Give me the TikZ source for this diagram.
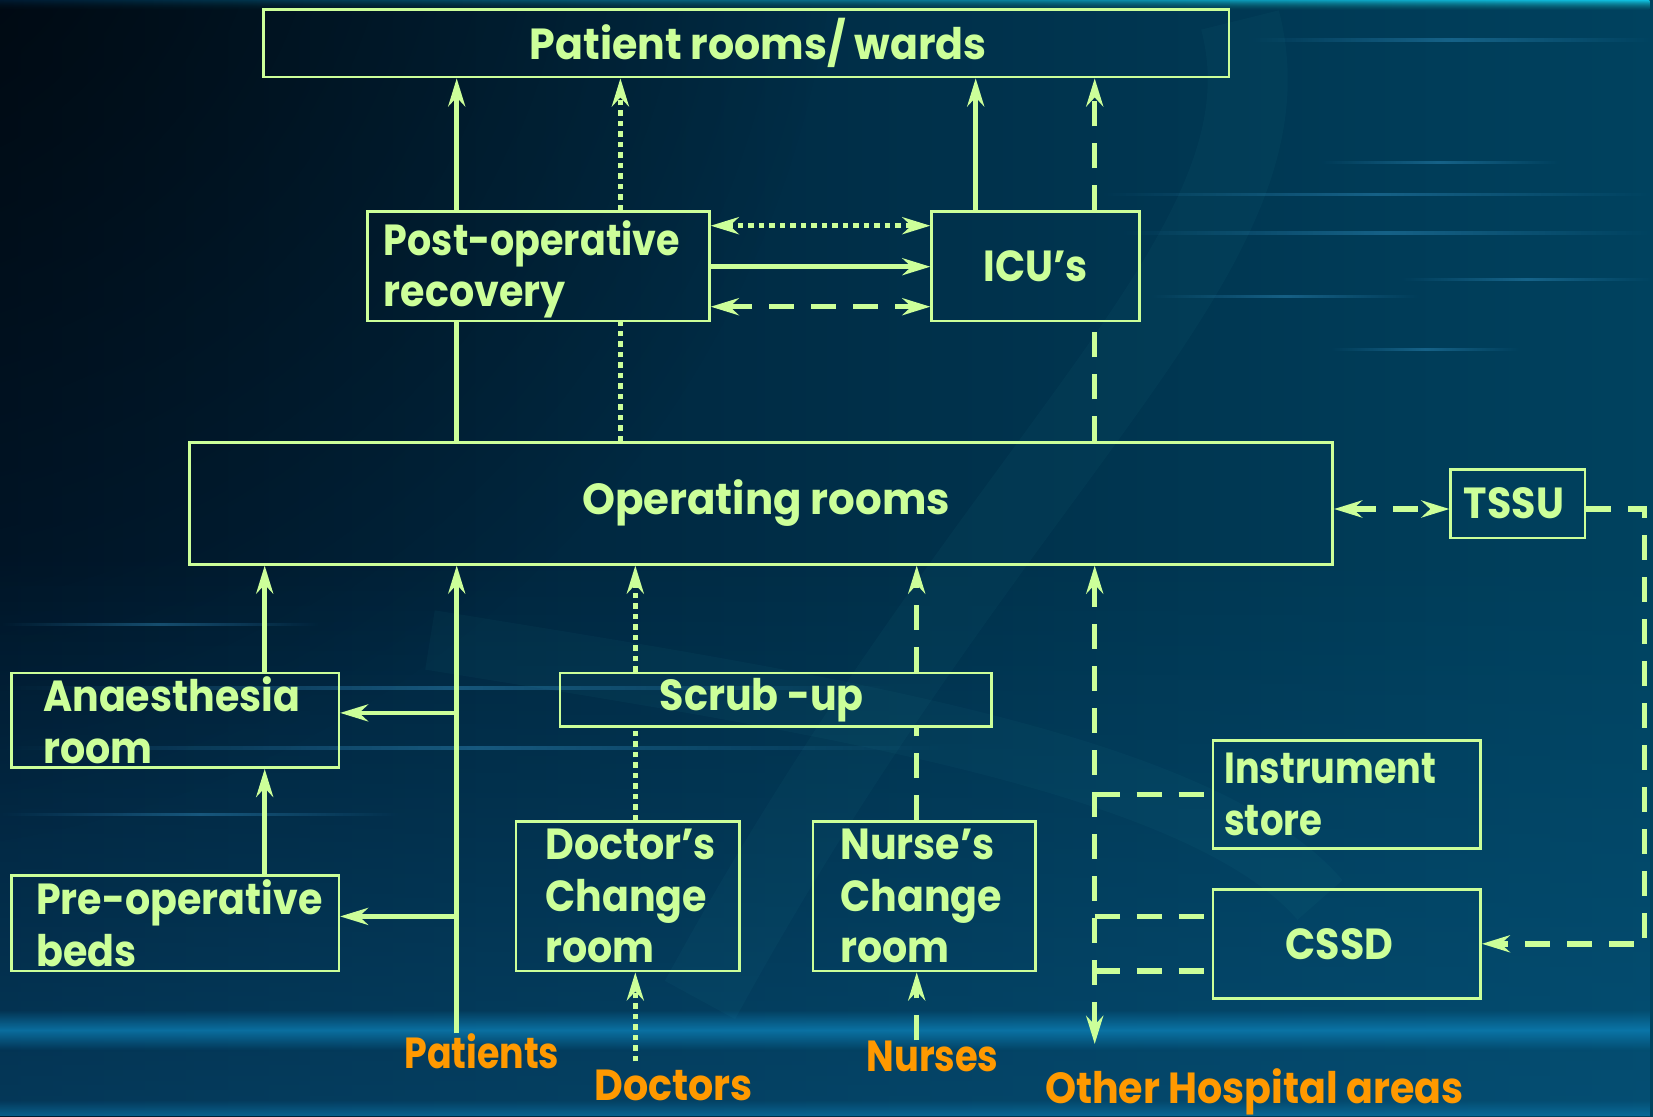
\documentclass[tikz,border=0pt]{standalone}
\usepackage{fontspec}
\usepackage{graphicx}
\setmainfont{Poppins}[FakeStretch=0.91]
\usetikzlibrary{arrows.meta,fadings,calc}
\newcommand\fitw[2]{\resizebox{#1}{\height}{#2}}
\definecolor{lg}{RGB}{204,255,153}
\definecolor{org}{RGB}{255,153,0}
\definecolor{bgL}{HTML}{001A30}
\definecolor{bgR}{HTML}{00425F}
\definecolor{lift}{HTML}{0A5E8C}
\definecolor{cyanband}{HTML}{10C0E0}
\definecolor{band}{HTML}{0E86BE}
\definecolor{streakc}{HTML}{3FA8E0}
\definecolor{swoosh}{HTML}{2FA8B0}
\tikzfading[name=fadeRad, inner color=transparent!0, outer color=transparent!100]
\tikzfading[name=fadeUp, top color=transparent!100, bottom color=transparent!0]
\tikzfading[name=fadeDown, top color=transparent!0, bottom color=transparent!100]
\tikzfading[name=fadeMid, top color=transparent!100, bottom color=transparent!100, middle color=transparent!0]
\tikzfading[name=fadeH, left color=transparent!100, right color=transparent!100, middle color=transparent!0]
\tikzset{
  >={Stealth[length=28pt,width=17pt,inset=9pt]},
  box/.style={draw=lg, line width=2.6pt, text=lg, inner sep=0pt, align=center,
    execute at begin node={\hyphenpenalty=10000 \exhyphenpenalty=10000 }},
  lbox/.style={box, align=left},
  lab/.style={text=org, inner sep=0pt},
  sol/.style={draw=lg, line width=4.5pt},
  dsh/.style={draw=lg, line width=5.5pt, dash pattern=on 25pt off 17pt},
  dot/.style={draw=lg, line width=5.5pt, dash pattern=on 5.5pt off 5pt},
  streak/.style={fill=streakc, opacity=0.35, path fading=fadeH}
}
\begin{document}
\begin{tikzpicture}[x=1pt, y=-1pt, font=\fontsize{43.5}{51.5}\selectfont\bfseries]
\useasboundingbox (0,0) rectangle (1653,1116);
\clip (0,0) rectangle (1653,1116);
% ---------- background ----------
\fill[left color=bgL, right color=bgR] (0,0) rectangle (1653,1116);
\fill[black, opacity=0.75, path fading=fadeRad] (-150,-150) circle (1000);
\fill[lift, opacity=0.45, path fading=fadeUp] (0,550) rectangle (1653,1116);
\draw[swoosh, line width=80pt, opacity=0.05] (1240,20) .. controls (1300,250) and (1000,450) .. (700,1000);
\draw[swoosh, line width=60pt, opacity=0.05] (430,640) .. controls (800,700) and (1200,760) .. (1320,900);
\fill[left color=bgL, right color=cyanband, path fading=fadeDown] (0,0) rectangle (1653,10);
\fill[band, opacity=0.7, path fading=fadeMid] (0,1010) rectangle (1653,1050);
\fill[band, opacity=0.5, path fading=fadeUp] (0,1100) rectangle (1653,1116);
\fill[streak] (0,686) rectangle (900,690);
\fill[streak] (0,746) rectangle (950,750);
\fill[streak] (0,623) rectangle (320,626);
\fill[streak] (0,813) rectangle (400,816);
\fill[streak] (1320,161) rectangle (1560,164);
\fill[streak] (1100,193) rectangle (1653,196);
\fill[streak] (1120,231) rectangle (1653,235);
\fill[streak] (1400,278) rectangle (1653,281);
\fill[streak] (1150,295) rectangle (1420,298);
\fill[streak] (1330,348) rectangle (1520,351);
\fill[streak] (1250,38) rectangle (1653,42);
% ---------- nodes ----------
\node[box, minimum width=965.4pt, minimum height=67.7pt] (PR) at (746.3,43.2) {\hspace*{24pt}\fitw{457pt}{Patient rooms/ wards}};
\node[lbox, minimum width=342pt, minimum height=109.3pt, text width=309pt, inner xsep=16pt] (PO) at (538.4,266.4) {\rule{0pt}{41pt}\fitw{296pt}{Post-operative}\\recovery};
\node[box, minimum width=207.7pt, minimum height=109.3pt] (ICU) at (1035.5,266.4) {ICU’s};
\node[box, minimum width=1143.2pt, minimum height=121.5pt] (OR) at (761.1,503.5) {\hspace*{10pt}\fitw{368pt}{Operating rooms}};
\node[box, minimum width=134.3pt, minimum height=68.6pt] (TSSU) at (1517.9,503.6) {TSSU\hspace*{8pt}};
\node[lbox, minimum width=327.2pt, minimum height=94.8pt, text width=264pt, inner xsep=31pt] (AN) at (175.2,720.2) {Anaesthesia\\room};
\node[lbox, minimum width=327.2pt, minimum height=95.6pt, text width=278pt, inner xsep=24pt] (PB) at (175.2,923.2) {Pre-operative\\beds};
\node[box, minimum width=431.6pt, minimum height=53.9pt] (SU) at (775.8,699.8) {Scrub -up\hspace*{28pt}};
\node[lbox, minimum width=223.5pt, minimum height=149.5pt, text width=165pt, inner xsep=29pt] (DC) at (627.8,896.3) {Doctor’s\\Change\\room};
\node[lbox, minimum width=222.9pt, minimum height=149.5pt, text width=168pt, inner xsep=27pt] (NC) at (924.3,896.3) {Nurse’s\\Change\\room};
\node[lbox, minimum width=267.5pt, minimum height=108.2pt, text width=245pt, inner xsep=11pt] (IS) at (1346.8,794.6) {\fitw{212pt}{Instrument}\\\fitw{98pt}{store}};
\node[box, minimum width=267.5pt, minimum height=109.1pt] (CS) at (1346.8,943.8) {CSSD\hspace*{15pt}};
\node[lab, anchor=base] (Pat) at (481.8,1068.3) {\fitw{155pt}{Patients}};
\node[lab, anchor=base] (Doc) at (673.8,1100) {Doctors};
\node[lab, anchor=base] (Nur) at (932.5,1071) {\fitw{132pt}{Nurses}};
\node[lab, anchor=base] (Oth) at (1254.4,1103) {Other Hospital areas};
% ---------- guide coordinates ----------
\coordinate (xP) at (456.7,0);
\coordinate (xDot) at (620.4,0);
\coordinate (xICU) at (975.7,0);
\coordinate (xDash) at (1094.7,0);
\coordinate (xAN) at (264.7,0);
\coordinate (xD) at (635.3,0);
\coordinate (xN) at (916.7,0);
\coordinate (xR) at (1644.6,0);
\coordinate (y1) at (0,225.7);
\coordinate (y2) at (0,266.7);
\coordinate (y3) at (0,306.7);
\coordinate (yT) at (0,509);
\coordinate (yAN) at (0,712.9);
\coordinate (yPB) at (0,916.4);
\coordinate (yC1) at (0,916.4);
\coordinate (yC2) at (0,971);
\coordinate (dstart) at ($(Doc.north -| xD)+(0,-8)$);
\coordinate (oend) at ($(Oth.north -| xDash)+(0,-24)$);
% ---------- connectors ----------
\draw[sol] (OR.north -| xP) -- (PO.south -| xP);
\draw[sol,->] (PO.north -| xP) -- (PR.south -| xP);
\draw[dot] (OR.north -| xDot) -- (PO.south -| xDot);
\draw[dot,->] (PO.north -| xDot) -- (PR.south -| xDot);
\draw[sol,->] (ICU.north -| xICU) -- (PR.south -| xICU);
\draw[dsh] (OR.north -| xDash) -- (ICU.south -| xDash);
\draw[dsh,->] (ICU.north -| xDash) -- (PR.south -| xDash);
\draw[dot,<->] (PO.east |- y1) -- (ICU.west |- y1);
\draw[sol,->] (PO.east |- y2) -- (ICU.west |- y2);
\draw[dsh,<->] (PO.east |- y3) -- (ICU.west |- y3);
\draw[dsh,<->] (OR.east |- yT) -- (TSSU.west |- yT);
\draw[dsh,->] (TSSU.east |- yT) -| (xR |- CS.east) -- (CS.east);
\draw[sol,->] (AN.north -| xAN) -- (OR.south -| xAN);
\draw[sol,->] (PB.north -| xAN) -- (AN.south -| xAN);
\draw[sol,->] (Pat.north -| xP) -- (OR.south -| xP);
\draw[sol,->] (xP |- yAN) -- (AN.east |- yAN);
\draw[sol,->] (xP |- yPB) -- (PB.east |- yPB);
\draw[dot,->] (dstart) -- (DC.south -| xD);
\draw[dot] (DC.north -| xD) -- (SU.south -| xD);
\draw[dot,->] (SU.north -| xD) -- (OR.south -| xD);
\draw[dsh,->] (Nur.north -| xN) -- (NC.south -| xN);
\draw[dsh] (NC.north -| xN) -- (SU.south -| xN);
\draw[dsh,->] (SU.north -| xN) -- (OR.south -| xN);
\draw[dsh,<->] (OR.south -| xDash) -- (oend);
\draw[dsh] (xDash |- IS.west) -- (IS.west);
\draw[dsh] (xDash |- yC1) -- (CS.west |- yC1);
\draw[dsh] (xDash |- yC2) -- (CS.west |- yC2);
\end{tikzpicture}
\end{document}
